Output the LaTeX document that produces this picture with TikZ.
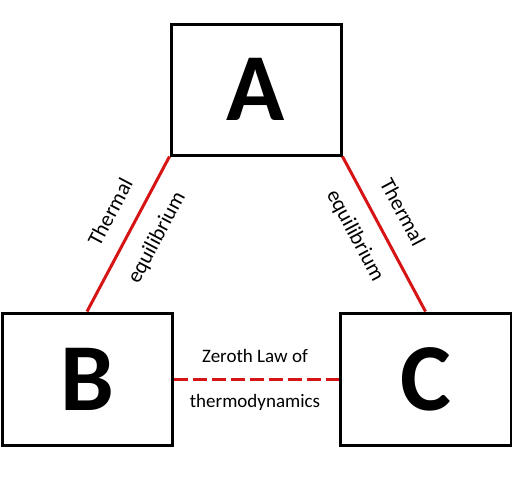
\documentclass[tikz,border=0pt]{standalone}
\usepackage{fontspec}
\setmainfont{Carlito}
\definecolor{linkred}{RGB}{214,20,22}
\tikzset{
  boxnode/.style={draw=black, line width=3pt, minimum width=170pt, minimum height=131pt, inner sep=0pt, font=\fontsize{96}{96}\selectfont\bfseries},
  redline/.style={draw=linkred, line width=3pt},
  lbl/.style={font=\fontsize{19}{19}\selectfont, inner sep=0pt},
  slbl/.style={font=\fontsize{21.5}{21.5}\selectfont, inner sep=0pt},
}
\begin{document}
\begin{tikzpicture}[x=1pt,y=-1pt]
\useasboundingbox (0,0) rectangle (512,496);
\node[boxnode] (A) at (256,89.5) {A};
\node[boxnode, minimum height=132pt] (B) at (87,379) {B};
\node[boxnode, minimum height=132pt, minimum width=171pt] (C) at (425.5,379) {C};
\draw[redline] (A.south west) -- (B.north);
\draw[redline] (A.south east) -- (C.north);
\draw[redline, dash pattern=on 14pt off 5pt] (B.east) -- (C.west);
\node[slbl, rotate=62] (t1) at (110,212) {Thermal};
\node[slbl, rotate=62] (e1) at (157,238) {equilibrium};
\node[slbl, rotate=-62] (t2) at (403,212) {Thermal};
\node[slbl, rotate=-62] (e2) at (355,236) {equilibrium};
\node[lbl, anchor=base] (z1) at (255,362.5) {Zeroth Law of};
\node[lbl, anchor=base] (z2) at (255,407) {thermodynamics};
\end{tikzpicture}
\end{document}
